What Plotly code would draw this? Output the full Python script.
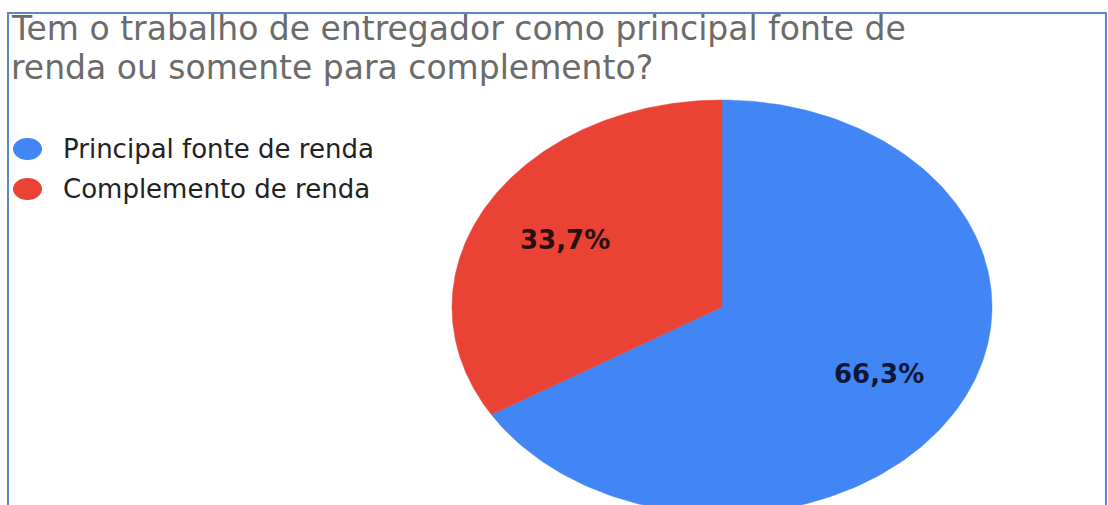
import numpy as np
import plotly.graph_objects as go

# Survey answers and their shares (percent)
labels = ["Principal fonte de renda", "Complemento de renda"]
values = [66.3, 33.7]
value_text = ["66,3%", "33,7%"]
colors = ["#4285f4", "#ea4335"]
text_colors = ["#0e1735", "#2a0f0f"]

title_lines = [
    "Tem o trabalho de entregador como principal fonte de",
    "renda ou somente para complemento?",
]

W, H = 1108, 505
# pie centre and radii in pixels (the chart is stretched horizontally)
cx, cy, rx, ry = 722, 307, 270, 207

fig = go.Figure()

# Slices: first slice runs clockwise from 12 o'clock, the second one
# counter-clockwise from 12 o'clock; each is a filled polygon on a unit circle.
total = sum(values)
start = 90.0
label_r = 0.665
for i, v in enumerate(values):
    sweep = 360.0 * v / total
    if i == 0:
        a0, a1 = start, start - sweep
    else:
        a0, a1 = start, start + sweep
    ang = np.radians(np.linspace(a0, a1, 240))
    xs = np.concatenate([[0], np.cos(ang), [0]])
    ys = np.concatenate([[0], np.sin(ang), [0]])
    fig.add_trace(go.Scatter(
        x=xs, y=ys, mode="lines", fill="toself",
        fillcolor=colors[i], line=dict(color=colors[i], width=0.5),
        hoverinfo="skip", showlegend=False,
    ))
    mid = np.radians((a0 + a1) / 2)
    fig.add_annotation(
        x=label_r * np.cos(mid), y=label_r * np.sin(mid),
        text=value_text[i], showarrow=False,
        font=dict(family="DejaVu Sans", size=26, color=text_colors[i], weight="bold"),
        xanchor="center", yanchor="middle",
    )

# axis ranges chosen so the unit circle lands at the pie centre/radii
x_range = [(0 - cx) / rx, (W - cx) / rx]
y_range = [(cy - H) / ry, (cy - 0) / ry]
axis_common = dict(visible=False, showgrid=False, zeroline=False, fixedrange=True)
fig.update_xaxes(range=x_range, **axis_common)
fig.update_yaxes(range=y_range, **axis_common)

# title, one annotation per line
title_y = [28, 67]
for line, py in zip(title_lines, title_y):
    fig.add_annotation(
        xref="paper", yref="paper", x=9 / W, y=1 - py / H,
        text=line, showarrow=False, xanchor="left", yanchor="middle",
        font=dict(family="DejaVu Sans", size=33, color="#6b6b6b"),
    )

# legend: ellipse markers plus text
legend_y = [149, 189]
shapes = []
for lab, col, py in zip(labels, colors, legend_y):
    shapes.append(dict(
        type="circle", xref="paper", yref="paper",
        x0=13 / W, x1=42 / W, y0=1 - (py - 11) / H, y1=1 - (py + 11) / H,
        fillcolor=col, line=dict(width=0),
    ))
    fig.add_annotation(
        xref="paper", yref="paper", x=61 / W, y=1 - py / H,
        text=lab, showarrow=False, xanchor="left", yanchor="middle",
        font=dict(family="DejaVu Sans", size=26, color="#222222"),
    )

# frame around the chart
shapes.append(dict(
    type="rect", xref="paper", yref="paper",
    x0=8 / W, x1=1106 / W, y0=1 - 13 / H, y1=-0.1,
    line=dict(color="#5a87c6", width=2), fillcolor="rgba(0,0,0,0)",
))

fig.update_layout(
    width=W, height=H,
    margin=dict(l=0, r=0, t=0, b=0),
    paper_bgcolor="white", plot_bgcolor="white",
    shapes=shapes, showlegend=False,
)

fig.write_html("out.html")
